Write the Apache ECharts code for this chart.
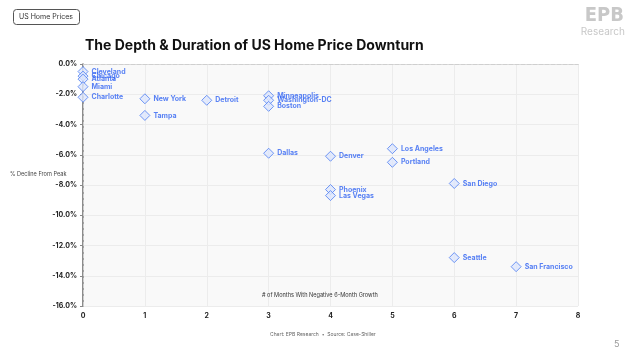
<!DOCTYPE html>
<html><head><meta charset="utf-8">
<script src="https://cdn.jsdelivr.net/npm/echarts@6/dist/echarts.min.js"></script>
<style>html,body{margin:0;padding:0;background:#fff}#c{width:640px;height:358px}</style>
</head><body><div id="c"></div>
<script>
const cities = ["Cleveland","Chicago","Atlanta","Miami","Charlotte","New York","Tampa","Detroit","Minneapolis","Washington-DC","Boston","Dallas","Denver","Phoenix","Las Vegas","Los Angeles","Portland","San Diego","Seattle","San Francisco"];
const months = [0,0,0,0,0,1,1,2,3,3,3,3,4,4,4,5,5,6,6,7];
const decline = [-0.5,-0.8,-1.0,-1.5,-2.2,-2.3,-3.4,-2.4,-2.1,-2.4,-2.8,-5.9,-6.1,-8.3,-8.7,-5.6,-6.5,-7.9,-12.8,-13.4];
const FONT = 'Inter, "Open Sans", sans-serif';
const chart = echarts.init(document.getElementById('c'), null, {renderer:'canvas'});
const data = cities.map((c,i)=>({value:[months[i],decline[i]], name:c}));
chart.setOption({
  animation:false,
  textStyle:{fontFamily:FONT},
  grid:{left:83,right:62,top:64,bottom:52,show:true,backgroundColor:'#f9f9f9',borderWidth:0},
  xAxis:[{
    type:'value',min:0,max:8,interval:1,position:'bottom',
    axisLine:{show:true,lineStyle:{color:'#cfcfcf',type:'dashed',width:1}},
    axisTick:{show:false},
    axisLabel:{color:'#222',fontSize:7,fontWeight:'bold',margin:6,fontFamily:FONT},
    splitLine:{show:true,lineStyle:{color:'#ececec',width:1}}
  },{
    type:'value',min:0,max:8,interval:1,position:'top',
    axisLine:{show:true,lineStyle:{color:'#cfcfcf',type:'dashed',width:1}},
    axisTick:{show:false},axisLabel:{show:false},splitLine:{show:false}
  }],
  yAxis:[{
    type:'value',min:-16,max:0,interval:2,
    axisLine:{show:true,lineStyle:{color:'#666',width:1.5}},
    axisTick:{show:true,length:3,lineStyle:{color:'#888'}},
    axisLabel:{color:'#222',fontSize:7,fontWeight:'bold',margin:6,fontFamily:FONT,
      formatter:v=>v.toFixed(1)+'%'},
    splitLine:{show:true,lineStyle:{color:'#ececec',width:1}}
  },{
    type:'value',min:-16,max:0,interval:2,position:'right',
    axisLine:{show:true,lineStyle:{color:'#cfcfcf',type:'dashed',width:1}},
    axisTick:{show:false},axisLabel:{show:false},splitLine:{show:false}
  }],
  series:[{
    type:'scatter',symbol:'diamond',symbolSize:10,
    itemStyle:{color:'#dde6fc',borderColor:'#4d7ef2',borderWidth:1},
    label:{show:true,position:'right',distance:3,offset:[0,1],formatter:p=>p.name,
      color:'#2f63f2',fontSize:7,fontWeight:'bold',fontFamily:FONT},
    labelLayout:{hideOverlap:false},
    data:data
  }],
  graphic:[
    {type:'rect',left:13,top:9,shape:{width:66,height:15,r:3},style:{fill:'#fff',stroke:'#555',lineWidth:1}},
    {type:'text',left:19,top:13,style:{text:'US Home Prices',font:'7px '+FONT,fill:'#333'}},
    {type:'text',left:85,top:39,style:{text:'The Depth & Duration of US Home Price Downturn',font:'bold 14px '+FONT,fill:'#111'}},
    {type:'text',right:16,top:6,style:{text:'EPB',font:'bold 20px "DejaVu Sans Condensed", sans-serif',fill:'#c8c8c8'}},
    {type:'text',right:15,top:27,style:{text:'Research',font:'10px '+FONT,fill:'#c8c8c8'}},
    {type:'text',left:10,top:171,style:{text:'% Decline From Peak',font:'5.6px '+FONT,fill:'#444'}},
    {type:'text',left:262,top:292,z:100,style:{text:'# of Months With Negative 6-Month Growth',font:'5.6px '+FONT,fill:'#333'}},
    {type:'text',left:270,top:332,style:{text:'Chart: EPB Research  \u2022  Source: Case-Shiller',font:'5px '+FONT,fill:'#666'}},
    {type:'text',left:614,top:340,style:{text:'5',font:'9px '+FONT,fill:'#999'}}
  ]
});
</script></body></html>
